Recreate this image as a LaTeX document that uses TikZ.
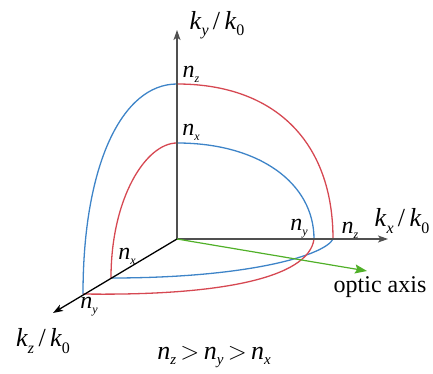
\documentclass[tikz,border=0pt]{standalone}
\usepackage{fontspec}
\setmainfont{Liberation Serif}
\usetikzlibrary{arrows.meta}
\definecolor{cred}{RGB}{214,72,82}
\definecolor{cblue}{RGB}{62,132,200}
\definecolor{cgreen}{RGB}{80,176,40}
\definecolor{caxis}{RGB}{80,80,80}
\newcommand\nsub[3]{\textit{#1}\raisebox{-0.2em}{\fontsize{#3}{#3}\selectfont\textit{#2}}}
\newcommand\ksub[1]{\textit{k}\raisebox{-0.25em}{\fontsize{16}{16}\selectfont #1}}
\begin{document}
\begin{tikzpicture}[x=1pt,y=-1pt,
  axisline/.style={line width=1.3pt, draw=caxis, -{Stealth[length=10pt,width=7pt,inset=2.5pt]}},
  curve/.style={line width=1.3pt},
  nlab/.style={font=\fontsize{24}{24}\selectfont, inner sep=0pt},
  klab/.style={font=\fontsize{26}{26}\selectfont, inner sep=0pt}]
\useasboundingbox (0,0) rectangle (433,374);
\coordinate (O) at (177,239);
\coordinate (Yend) at (177,30);
\coordinate (Xend) at (388,239);
\coordinate (Zend) at (53,313);
\coordinate (Oend) at (367,271);
\coordinate (Yo) at (177,84);
\coordinate (Yi) at (177,143);
\coordinate (Xo) at (333,239);
\coordinate (Xi) at (314,239);
\coordinate (Zo) at (83,294);
\coordinate (Zi) at (111,278);
% curves
\draw[curve, cred]  (Yo) .. controls (275,84) and (333,142) .. (Xo);
\draw[curve, cblue] (Yi) .. controls (259,143) and (314,183) .. (Xi);
\draw[curve, cblue] (Yo) .. controls (122,84) and (83,165) .. (Zo);
\draw[curve, cred]  (Yi) .. controls (146,143) and (111,198) .. (Zi);
\draw[curve, cblue] (Zi) .. controls (250,278) and (325,255) .. (Xo);
\draw[curve, cred]  (Zo) .. controls (220,296) and (309,278) .. (Xi);
% axes
\draw[axisline] (O) -- (Yend);
\draw[axisline] (O) -- (Xend);
\draw[axisline, draw=black] (O) -- (Zend);
\draw[line width=1.2pt, cgreen, -{Stealth[length=12pt,width=9pt,inset=2pt]}] (O) -- (Oend);
% labels
\node[klab] (ky) at (217,25) {\ksub{\textit{y}}\,/\,\ksub{0}};
\node[klab] (kx) at (402,221) {\ksub{\textit{x}}\,/\,\ksub{0}};
\node[klab] (kz) at (43,341) {\ksub{\textit{z}}\,/\,\ksub{0}};
\node[nlab] (nzy) at (191,74) {\nsub{n}{z}{12}};
\node[nlab] (nxy) at (191,132) {\nsub{n}{x}{12}};
\node[nlab] (nyx) at (299,229) {\nsub{n}{y}{12}};
\node[nlab] (nzx) at (350,230) {\nsub{n}{z}{12}};
\node[nlab] (nxz) at (127,256) {\nsub{n}{x}{12}};
\node[nlab] (nyz) at (89,307) {\nsub{n}{y}{12}};
\node[klab] (rel) at (214,357) {\nsub{n}{z}{15}\,$>$\,\nsub{n}{y}{15}\,$>$\,\nsub{n}{x}{15}};
\node[klab, font=\fontsize{24}{24}\selectfont] (oa) at (380,287) {optic axis};
\end{tikzpicture}
\end{document}
